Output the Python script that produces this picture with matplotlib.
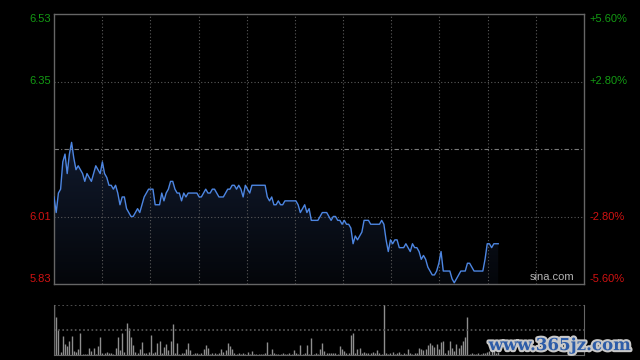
import numpy as np
import matplotlib
matplotlib.use("Agg")
import matplotlib.pyplot as plt
import matplotlib.patheffects as pe

plt.rcParams['font.family'] = ['Liberation Sans', 'DejaVu Sans']

# intraday price, one value per minute from the open
prices = [
    6.06, 6.02, 6.07, 6.08, 6.15, 6.17, 6.12, 6.17, 6.20, 6.16,
    6.13, 6.14, 6.13, 6.12, 6.10, 6.12, 6.11, 6.10, 6.12, 6.14,
    6.13, 6.12, 6.15, 6.12, 6.11, 6.09, 6.09, 6.08, 6.09, 6.07,
    6.04, 6.06, 6.06, 6.03, 6.02, 6.01, 6.01, 6.02, 6.03, 6.02,
    6.04, 6.06, 6.07, 6.08, 6.08, 6.08, 6.04, 6.04, 6.04, 6.07,
    6.05, 6.07, 6.08, 6.10, 6.10, 6.08, 6.07, 6.07, 6.05, 6.07,
    6.06, 6.07, 6.07, 6.07, 6.07, 6.07, 6.06, 6.06, 6.07, 6.08,
    6.07, 6.07, 6.08, 6.08, 6.07, 6.06, 6.06, 6.06, 6.07, 6.08,
    6.08, 6.09, 6.09, 6.08, 6.09, 6.08, 6.06, 6.09, 6.08, 6.07,
    6.09, 6.09, 6.09, 6.09, 6.09, 6.09, 6.09, 6.06, 6.05, 6.06,
    6.04, 6.04, 6.05, 6.04, 6.04, 6.05, 6.05, 6.05, 6.05, 6.05,
    6.05, 6.04, 6.02, 6.03, 6.04, 6.02, 6.03, 6.00, 6.00, 6.00,
    6.00, 6.01, 6.02, 6.02, 6.02, 6.01, 6.00, 6.01, 6.01, 6.00,
    6.00, 5.99, 6.00, 5.99, 5.99, 5.98, 5.94, 5.96, 5.95, 5.96,
    5.97, 6.00, 6.00, 6.00, 5.99, 5.99, 5.99, 5.99, 5.99, 6.00,
    5.99, 5.95, 5.92, 5.95, 5.94, 5.95, 5.95, 5.93, 5.93, 5.93,
    5.94, 5.93, 5.92, 5.94, 5.93, 5.93, 5.92, 5.90, 5.91, 5.90,
    5.88, 5.87, 5.86, 5.86, 5.87, 5.89, 5.92, 5.87, 5.87, 5.87,
    5.87, 5.85, 5.84, 5.85, 5.86, 5.87, 5.87, 5.87, 5.89, 5.89,
    5.88, 5.87, 5.87, 5.87, 5.87, 5.87, 5.90, 5.94, 5.94, 5.93,
    5.94, 5.94, 5.94,
]

# volume per minute (relative units, 1000 = full panel)
volumes = [
    1500, 770, 510, 70, 380, 220, 190, 290, 380, 90,
    70, 120, 450, 30, 30, 20, 150, 80, 150, 30,
    190, 370, 40, 40, 60, 40, 50, 30, 150, 370,
    100, 450, 70, 650, 550, 370, 200, 70, 40, 130,
    270, 40, 50, 70, 410, 40, 60, 240, 280, 40,
    170, 220, 110, 290, 620, 50, 240, 30, 50, 40,
    130, 240, 110, 30, 40, 50, 30, 40, 130, 200,
    150, 30, 40, 50, 30, 40, 130, 70, 100, 240,
    190, 130, 40, 30, 50, 20, 40, 30, 70, 30,
    80, 30, 20, 30, 20, 30, 40, 270, 30, 130,
    40, 30, 20, 30, 40, 20, 30, 40, 30, 110,
    40, 30, 200, 30, 40, 200, 30, 350, 30, 40,
    30, 120, 240, 80, 50, 40, 50, 40, 50, 30,
    190, 130, 80, 50, 40, 410, 450, 40, 130, 150,
    40, 70, 40, 50, 50, 70, 40, 110, 50, 30,
    1200, 50, 30, 40, 70, 30, 40, 70, 30, 40,
    30, 130, 40, 30, 50, 40, 150, 130, 100, 130,
    200, 240, 200, 170, 230, 130, 270, 290, 50, 110,
    280, 150, 80, 220, 150, 200, 290, 370, 770, 30,
    40, 20, 30, 40, 30, 50, 40, 70, 80, 80,
    80, 40, 60,
]

prev_close = 6.183
left_labels = ["6.53", "6.35", "6.01", "5.83"]
right_labels = ["+5.60%", "+2.80%", "-2.80%", "-5.60%"]
pct_levels = [0.056, 0.028, -0.028, -0.056]
n_minutes = 241

minutes = np.arange(len(prices))
grid_col = "#5a5a5a"
green = "#139a13"
red = "#d01212"

fig = plt.figure(figsize=(6.4, 3.6), dpi=100, facecolor="black")
ax = fig.add_axes([54 / 640, 1 - 284 / 360, 530 / 640, 270 / 360], facecolor="black")
ax2 = fig.add_axes([54 / 640, 1 - 355 / 360, 530 / 640, 50 / 360], facecolor="black")

lo = prev_close * (1 - 0.056)
hi = prev_close * (1 + 0.056)
ax.set_xlim(0, n_minutes)
ax.set_ylim(lo, hi)

# gradient fill under the price line
fill = ax.fill_between(minutes, prices, lo, color="none")
grad = np.linspace(1, 0, 256).reshape(-1, 1)
cmap = matplotlib.colors.LinearSegmentedColormap.from_list("f", ["#04060a", "#111a2d"])
img = ax.imshow(grad, cmap=cmap, aspect="auto", extent=[0, n_minutes, lo, max(prices)],
                origin="upper", zorder=1)
img.set_clip_path(fill.get_paths()[0], transform=ax.transData)

ax.plot(minutes, prices, color="#4d86e2", lw=1.0, zorder=3)

# grid lines
for gx in np.linspace(0, n_minutes, 12)[1:-1]:
    ax.axvline(gx, color=grid_col, lw=0.8, ls=(0, (1, 2)), zorder=2)
for p in (0.028, -0.028):
    ax.axhline(prev_close * (1 + p), color=grid_col, lw=0.8, ls=(0, (1, 2)), zorder=2)
ax.axhline(prev_close, color="#7a7a7a", lw=0.8, ls=(0, (4, 2, 1, 2)), zorder=2)

for s in ax.spines.values():
    s.set_color("#666666")
    s.set_linewidth(1)
ax.set_xticks([])
ax.set_yticks([])

trans = matplotlib.transforms.blended_transform_factory(ax.transAxes, ax.transData)
vas = ["top", "center", "center", "bottom"]
for lab, rlab, p, va in zip(left_labels, right_labels, pct_levels, vas):
    col = green if p > 0 else red
    yv = prev_close * (1 + p)
    ax.text(-0.006, yv, lab, transform=trans, ha="right", va=va, color=col, fontsize=8)
    ax.text(1.011, yv, rlab, transform=trans, ha="left", va=va, color=col, fontsize=8)

ax.text(0.981, 0.008, "sina.com", transform=ax.transAxes, ha="right", va="bottom",
        color="#b4b4b4", fontsize=8)

# volume panel
ax2.set_xlim(0, n_minutes)
ax2.set_ylim(0, 1000)
ax2.vlines(minutes, 0, volumes, color="#8e8e8e", lw=1.0)
ax2.axhline(1000, color=grid_col, lw=1.2, ls=(0, (1, 1.5)))
ax2.axhline(500, color=grid_col, lw=1.2, ls=(0, (1, 1.5)))
for name, s in ax2.spines.items():
    s.set_color("#666666")
ax2.spines["top"].set_visible(False)
ax2.set_xticks([])
ax2.set_yticks([])

fig.text(0.985, 0.04, "www.365jz.com", ha="right", va="center", color="#2d5ca8",
         fontsize=12, fontweight="bold", fontfamily="DejaVu Serif",
         path_effects=[pe.withStroke(linewidth=3, foreground="#c8c8c8")])

fig.savefig("out.png", dpi=100, facecolor="black")
